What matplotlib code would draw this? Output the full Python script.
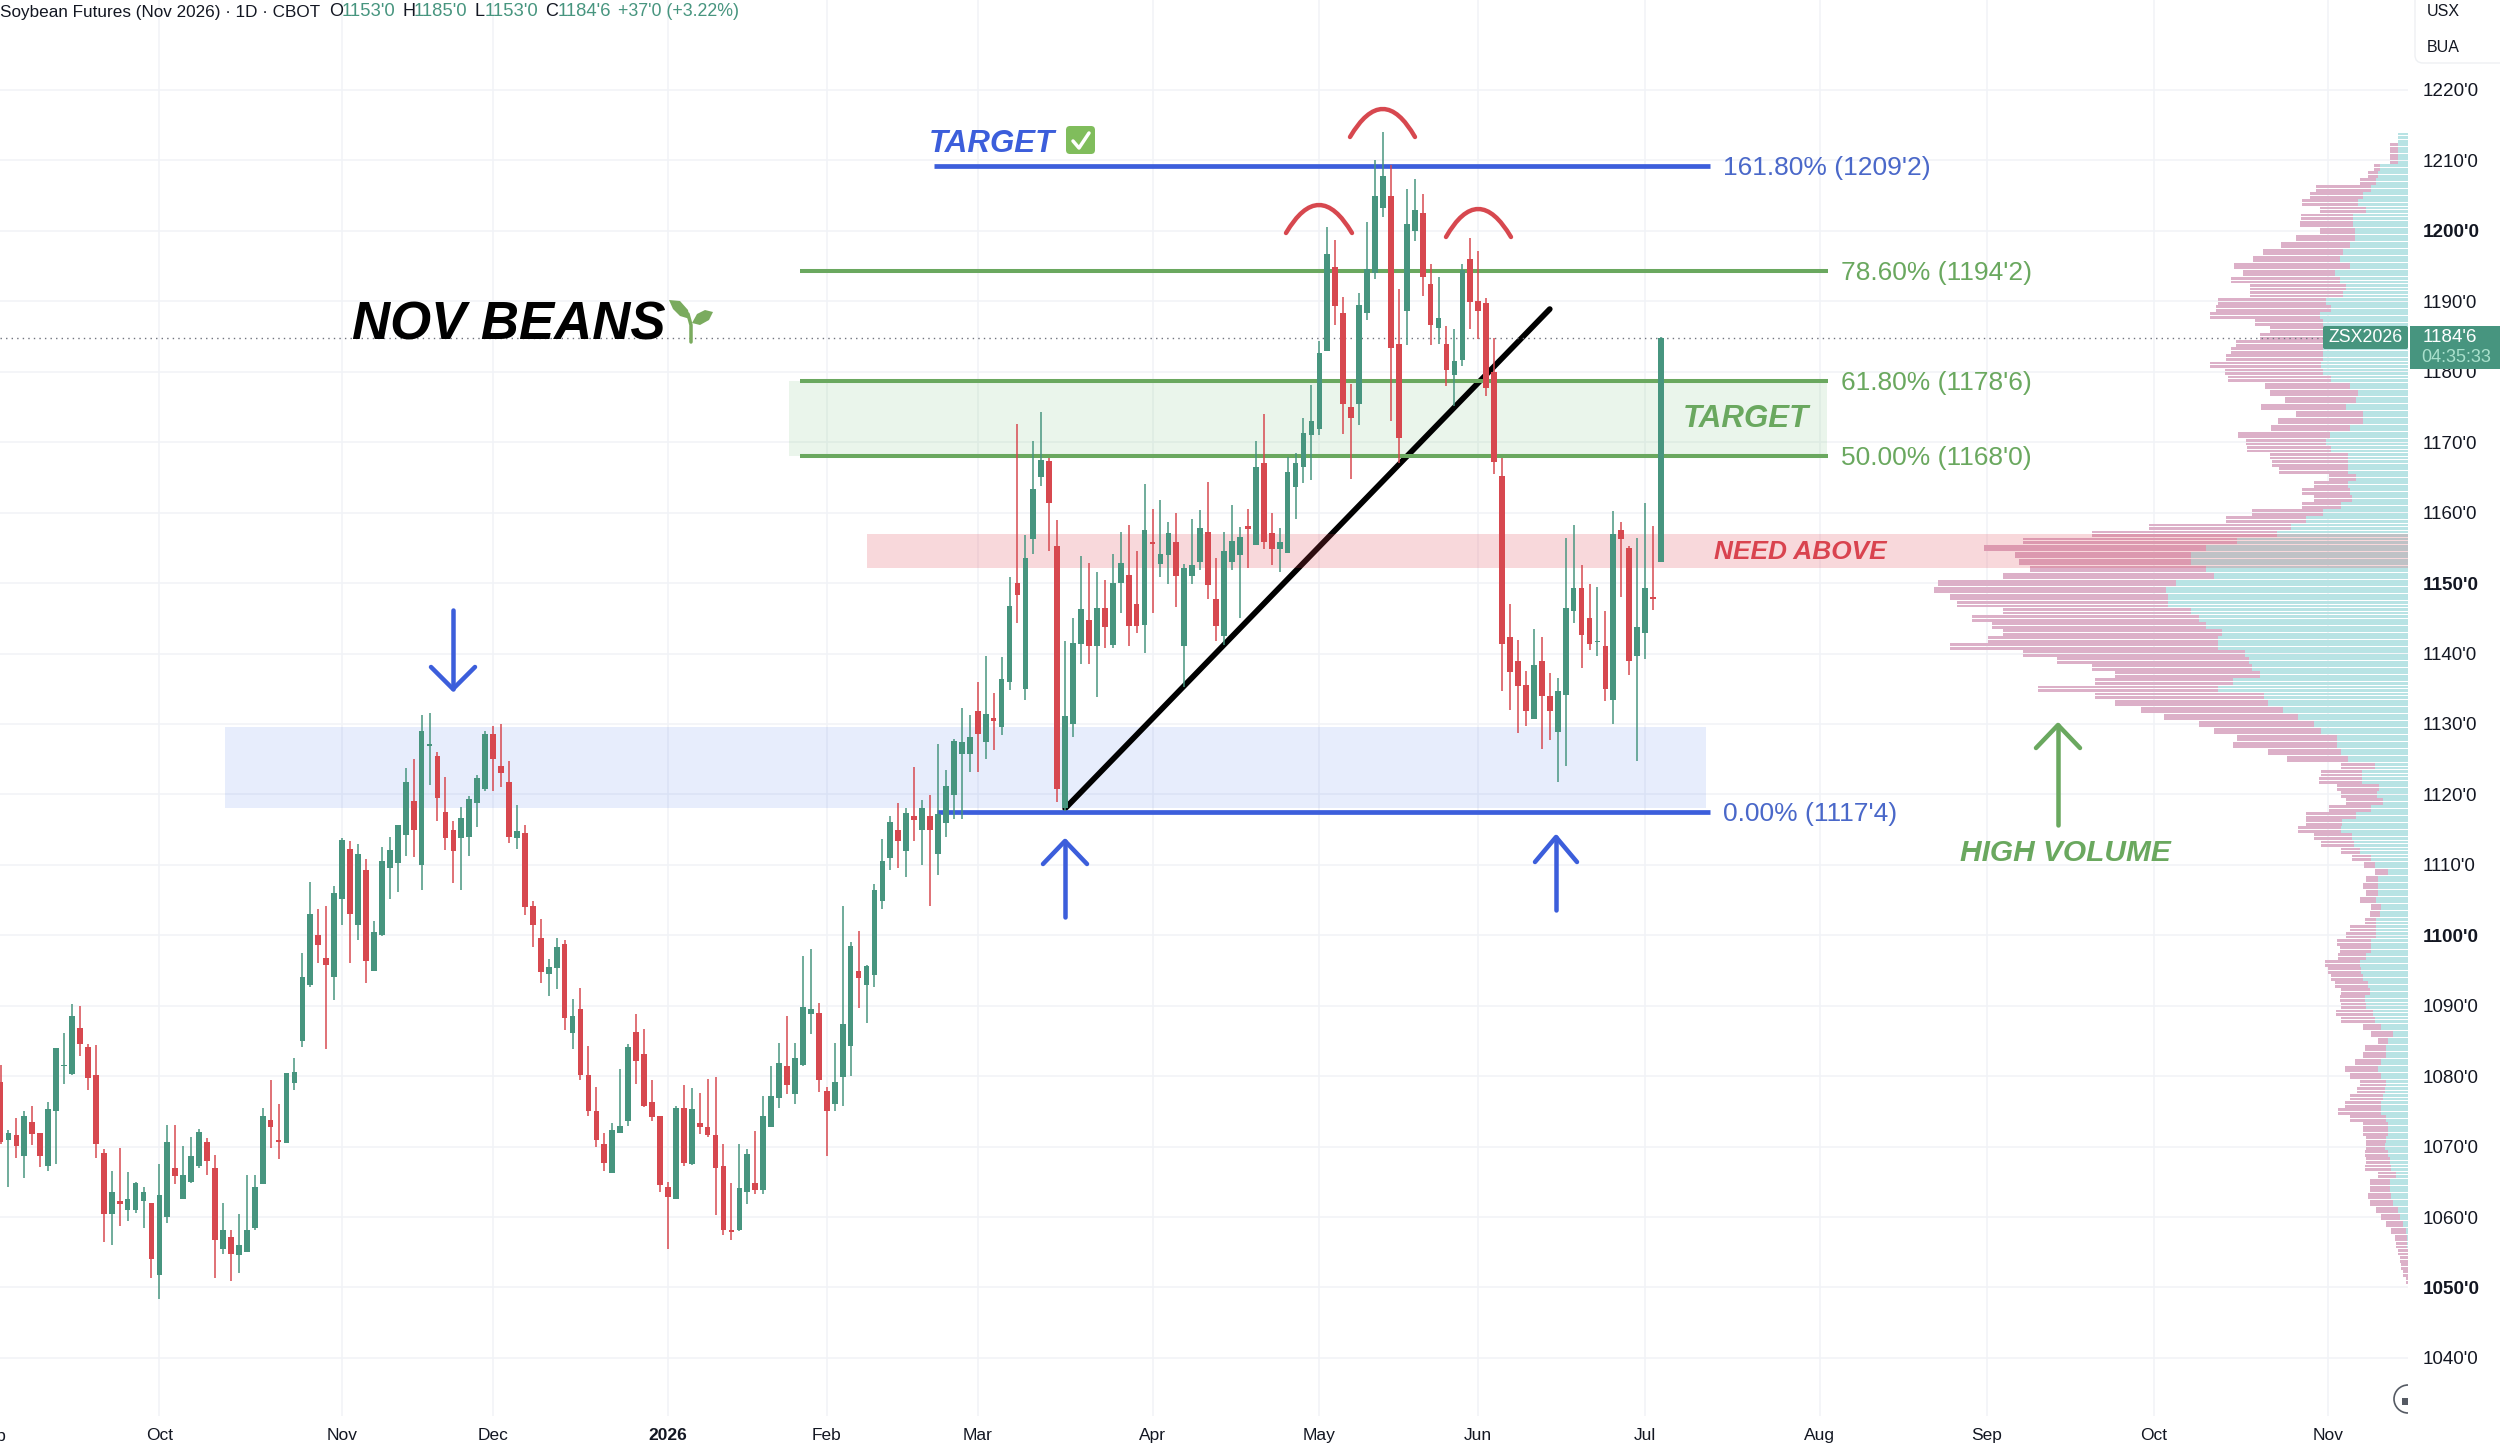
import numpy as np
import matplotlib
matplotlib.use("Agg")
import matplotlib.pyplot as plt
from matplotlib.patches import Rectangle, FancyBboxPatch, Polygon, PathPatch, Arc
from matplotlib.path import Path

plt.rcParams['font.family'] = ['Liberation Sans', 'DejaVu Sans']

# ---------- DATA ----------
opens = [1079.1,1071.0,1071.6,1068.6,1073.5,1071.9,1067.2,1075.1,1081.5,1080.3,
1086.8,1084.1,1080.1,1069.1,1060.5,1062.3,1061.0,1061.0,1062.3,1062.0,
1051.8,1060.0,1067.0,1062.5,1065.0,1067.2,1070.7,1067.0,1055.4,1057.1,
1054.6,1055.1,1058.5,1064.7,1073.8,1071.0,1070.5,1079.0,1085.0,1093.0,
1100.1,1096.8,1094.1,1105.1,1112.2,1101.5,1109.3,1095.0,1100.1,1109.6,
1110.3,1114.3,1119.0,1110.0,1126.9,1125.5,1117.5,1115.0,1113.8,1114.0,
1118.8,1120.8,1128.6,1124.0,1121.8,1113.8,1114.5,1104.1,1099.6,1094.5,
1095.3,1098.8,1086.1,1089.6,1080.1,1075.1,1070.3,1066.3,1072.0,1073.7,
1086.3,1083.1,1076.3,1074.3,1064.2,1062.5,1075.5,1067.5,1073.3,1072.8,
1071.6,1067.3,1058.1,1058.1,1063.6,1064.9,1063.9,1072.8,1076.9,1081.4,
1077.4,1081.6,1088.8,1088.9,1077.9,1076.1,1079.9,1084.3,1094.9,1093.0,
1094.4,1104.9,1111.0,1114.9,1111.9,1116.9,1114.9,1116.9,1111.6,1115.9,
1119.9,1125.8,1125.8,1131.9,1127.4,1130.9,1129.6,1136.0,1150.0,1134.9,
1156.3,1165.0,1167.3,1155.3,1118.0,1130.0,1141.4,1144.8,1141.0,1146.5,
1141.2,1150.0,1151.1,1147.1,1144.0,1155.8,1152.7,1154.0,1155.8,1141.0,
1151.0,1153.0,1157.3,1147.7,1142.5,1153.0,1154.0,1158.1,1155.4,1167.0,
1157.1,1154.9,1154.3,1163.7,1166.5,1171.0,1171.9,1183.0,1194.9,1188.4,
1175.0,1175.4,1188.4,1194.0,1203.2,1205.0,1183.9,1188.6,1200.0,1202.5,
1192.5,1186.2,1184.0,1179.6,1181.6,1196.0,1190.0,1189.8,1180.0,1165.2,
1142.4,1139.0,1135.5,1130.7,1139.0,1134.0,1128.9,1134.1,1146.0,1149.3,
1145.0,1141.6,1141.0,1133.4,1157.5,1155.0,1139.6,1142.9,1148.0,1153.0]

closes = [1070.7,1071.9,1070.1,1074.3,1071.8,1068.6,1075.3,1084.0,1081.6,1088.5,
1084.5,1079.8,1070.3,1060.5,1063.6,1061.8,1062.6,1064.8,1063.6,1054.0,
1063.1,1070.6,1065.8,1066.0,1068.6,1072.1,1067.9,1056.8,1058.1,1054.7,
1056.0,1058.1,1064.2,1074.3,1072.8,1070.7,1080.5,1080.6,1094.1,1103.0,
1098.6,1095.8,1106.0,1113.5,1103.0,1111.5,1096.3,1100.5,1110.5,1112.1,
1115.7,1121.8,1115.0,1129.0,1127.1,1119.5,1113.8,1112.0,1116.7,1119.3,
1122.3,1128.6,1125.0,1123.0,1114.0,1114.8,1104.0,1101.5,1094.8,1095.5,
1098.3,1088.2,1088.5,1080.2,1075.0,1071.0,1067.7,1072.3,1072.9,1084.2,
1082.2,1075.7,1074.2,1064.6,1062.8,1075.5,1067.7,1075.3,1072.8,1071.6,
1066.9,1058.1,1057.9,1064.1,1069.0,1063.8,1074.4,1077.2,1081.9,1078.8,
1082.6,1089.8,1089.6,1079.5,1075.1,1079.1,1087.4,1098.5,1093.9,1095.7,
1106.4,1110.5,1116.1,1113.4,1117.4,1116.4,1118.1,1114.9,1117.2,1121.2,
1127.6,1127.4,1128.2,1128.6,1131.4,1130.4,1136.4,1146.7,1148.3,1153.5,
1163.3,1167.5,1161.4,1120.8,1131.2,1141.5,1146.3,1141.0,1146.5,1143.8,
1150.0,1152.8,1143.9,1143.9,1157.5,1155.5,1154.1,1157.1,1151.0,1152.1,
1152.6,1157.8,1149.7,1143.9,1154.6,1156.0,1156.5,1157.7,1166.5,1155.9,
1154.9,1155.8,1165.8,1167.0,1171.3,1173.0,1182.7,1196.7,1189.4,1175.4,
1173.4,1189.5,1194.6,1205.0,1207.8,1183.4,1170.6,1201.0,1202.9,1193.5,
1186.7,1187.7,1180.2,1181.5,1194.4,1189.9,1188.6,1177.7,1167.2,1141.4,
1137.4,1135.4,1131.9,1138.4,1133.9,1131.9,1134.7,1146.5,1149.3,1142.7,
1141.4,1141.8,1134.9,1157.0,1156.2,1139.0,1143.7,1149.3,1147.7,1184.75]

highs = [1081.6,1072.3,1074.0,1075.0,1075.8,1071.9,1076.3,1084.0,1086.1,1090.3,
1089.9,1084.5,1084.4,1069.6,1066.6,1069.8,1066.4,1065.0,1064.2,1062.0,
1067.6,1073.1,1073.1,1070.1,1071.4,1072.5,1071.2,1068.8,1062.0,1058.2,
1060.4,1066.0,1066.0,1075.5,1079.5,1076.0,1080.5,1082.6,1097.5,1107.5,
1103.8,1104.1,1107.0,1113.8,1113.4,1113.0,1110.8,1102.0,1112.6,1114.0,
1115.7,1123.7,1125.0,1131.3,1131.5,1126.0,1122.5,1116.2,1118.2,1119.8,
1122.7,1129.0,1129.7,1130.0,1124.8,1118.5,1115.7,1104.9,1102.3,1096.7,
1099.6,1099.3,1090.9,1092.5,1084.3,1078.5,1071.9,1073.3,1081.0,1084.5,
1088.8,1086.7,1079.5,1074.3,1065.0,1075.8,1078.8,1078.3,1077.6,1079.6,
1079.9,1070.4,1064.8,1070.4,1069.6,1072.2,1077.2,1081.4,1084.7,1088.5,
1084.7,1097.1,1098.1,1090.4,1078.4,1084.7,1104.1,1099.0,1100.6,1095.8,
1107.3,1113.7,1117.0,1118.8,1118.1,1123.9,1119.2,1119.9,1127.1,1123.4,
1127.9,1132.3,1131.3,1135.9,1139.6,1134.4,1139.5,1150.8,1172.6,1156.8,
1170.2,1174.3,1167.7,1159.0,1141.8,1145.1,1153.8,1152.8,1151.6,1150.5,
1154.1,1157.3,1158.3,1154.6,1164.0,1160.5,1161.8,1158.7,1159.9,1152.7,
1159.1,1160.4,1164.3,1153.5,1157.3,1161.1,1158.0,1160.5,1170.1,1174.0,
1160.0,1157.8,1167.9,1168.4,1173.5,1178.1,1184.4,1200.5,1198.7,1190.6,
1178.2,1191.2,1201.3,1210.0,1214.0,1209.3,1191.7,1206.0,1207.4,1205.2,
1195.3,1193.5,1186.5,1186.0,1195.3,1199.0,1197.2,1190.5,1184.8,1167.8,
1147.1,1141.9,1137.5,1143.5,1142.4,1137.2,1136.5,1156.4,1158.2,1152.6,
1149.8,1149.5,1146.0,1160.2,1158.7,1155.3,1156.4,1161.3,1158.1,1185.0]

lows = [1070.4,1064.2,1068.4,1065.6,1070.2,1067.1,1066.6,1067.6,1078.9,1080.2,
1082.9,1078.0,1068.4,1056.4,1056.0,1058.7,1059.4,1060.6,1058.4,1051.4,
1048.4,1059.1,1064.7,1062.5,1064.8,1066.9,1066.0,1051.4,1054.7,1050.9,
1052.1,1055.0,1058.2,1064.7,1069.8,1068.2,1070.5,1078.1,1084.1,1092.7,
1096.1,1083.9,1090.8,1101.4,1096.1,1099.4,1093.2,1095.0,1099.9,1105.1,
1106.1,1111.3,1111.1,1106.4,1121.3,1116.2,1112.1,1107.4,1106.4,1111.3,
1115.4,1120.5,1120.5,1121.0,1113.1,1112.2,1102.9,1098.4,1093.2,1091.4,
1092.4,1086.6,1083.8,1079.5,1074.3,1069.9,1066.5,1066.3,1071.9,1072.9,
1078.9,1075.6,1073.6,1063.6,1055.5,1062.5,1067.2,1067.4,1071.8,1071.3,
1060.3,1057.5,1056.7,1058.0,1061.9,1063.2,1063.2,1072.8,1075.5,1077.5,
1076.0,1081.5,1086.0,1077.8,1068.7,1075.0,1075.7,1080.0,1089.7,1087.5,
1092.7,1103.8,1109.2,1109.5,1108.3,1113.4,1110.0,1104.2,1108.5,1114.0,
1116.5,1116.5,1123.2,1123.2,1125.0,1126.3,1128.5,1134.8,1144.4,1133.4,
1154.1,1163.8,1154.6,1118.9,1117.7,1128.2,1138.5,1138.5,1133.8,1140.8,
1140.8,1145.8,1141.1,1142.9,1140.1,1145.8,1150.8,1149.9,1146.6,1135.3,
1149.9,1151.8,1147.7,1141.8,1141.2,1151.8,1145.1,1152.1,1155.4,1154.8,
1152.6,1151.6,1154.3,1159.1,1164.2,1164.6,1171.0,1183.0,1186.6,1171.2,
1164.8,1172.5,1187.3,1193.1,1202.0,1173.0,1167.0,1183.8,1198.6,1190.8,
1183.8,1184.0,1178.0,1175.1,1180.8,1186.0,1184.7,1176.5,1165.5,1134.7,
1132.0,1128.7,1129.7,1130.7,1126.5,1127.7,1121.8,1124.0,1144.4,1137.9,
1140.5,1139.6,1133.2,1130.0,1148.0,1137.0,1124.8,1139.2,1146.2,1153.0]

month_idx = [20, 43, 62, 84, 104, 123, 145, 166, 186, 207, 229, 250, 271, 293]
month_lab = ['Oct', 'Nov', 'Dec', '2026', 'Feb', 'Mar', 'Apr', 'May', 'Jun', 'Jul', 'Aug', 'Sep', 'Oct', 'Nov']
price_ticks = list(range(1040, 1221, 10))

fib_levels = [1209.25, 1194.25, 1178.75, 1168.0, 1117.5]
fib_labels = ["161.80% (1209'2)", "78.60% (1194'2)", "61.80% (1178'6)", "50.00% (1168'0)", "0.00% (1117'4)"]
last_price = 1184.75

profile_levels = [1213.5] + list(range(1213, 1050, -1))
profile_total = [10,10,18,18,18,34,40,48,92,98,106,88,107,108,88,112,127,145,155,174,165,
177,158,158,190,192,198,153,138,148,172,177,182,198,183,180,143,138,123,147,112,
130,137,170,162,161,138,136,129,79,94,106,94,106,156,182,259,316,385,424,393,
389,378,405,470,474,458,451,405,436,416,405,420,458,385,351,316,293,313,370,313,
293,267,244,209,194,171,175,140,121,67,87,89,71,67,62,79,102,102,110,94,
87,67,56,44,33,42,45,42,48,37,38,43,58,62,71,68,70,83,80,77,
73,67,68,67,72,67,45,37,30,43,45,53,63,58,48,51,58,63,70,58,
45,45,42,42,43,42,43,30,38,38,40,38,32,27,22,17,13,12,10,8,7,5,2]
profile_up = [10,10,10,10,10,28,30,32,37,45,50,42,55,55,53,53,58,65,68,58,73,
68,62,65,82,77,88,85,70,85,85,85,85,87,85,77,58,50,52,62,45,
45,58,78,82,77,60,60,60,52,60,58,56,67,85,102,117,131,171,202,217,
217,202,194,232,242,240,240,217,209,202,186,190,190,163,159,156,148,175,190,144,
140,125,110,94,87,71,71,67,60,33,46,46,29,31,25,37,52,66,67,56,
54,48,37,33,20,30,30,30,32,27,28,32,32,32,37,37,42,48,47,45,
40,38,43,42,35,33,27,15,20,22,22,27,30,27,22,23,25,27,27,22,
20,20,22,23,20,18,17,12,18,18,17,15,10,8,5,2,1,1,0,0,0,0,0]

# ---------- LAYOUT ----------
W, H = 2500, 1444
STEP = 7.945
PX_PER_PT = 7.044
PLOT_R, PLOT_B = 2408, 1416
GREEN, RED = '#47957f', '#d7484f'
BLUE_L, GREEN_L = '#3c5edb', '#6aa85f'
ix = lambda px: (px - 0.5) / STEP
pr = lambda y: 1220 - (y - 90) / PX_PER_PT

fig = plt.figure(figsize=(25, 14.44), dpi=100, facecolor='white')
ax = fig.add_axes([0, (H - PLOT_B) / H, PLOT_R / W, PLOT_B / H])
ax.set_xlim(ix(0), ix(PLOT_R))
ax.set_ylim(pr(PLOT_B), pr(0))
for s in ax.spines.values():
    s.set_visible(False)
ax.set_axisbelow(True)
ax.grid(True, color='#f1f3f7', lw=1.1, zorder=0)
ax.yaxis.tick_right()
ax.set_yticks(price_ticks)
ax.set_yticklabels([f"{p}'0" for p in price_ticks], fontsize=13.6, color='#131722')
for lab, p in zip(ax.get_yticklabels(), price_ticks):
    if p % 50 == 0:
        lab.set_fontweight('bold')
ax.set_xticks(month_idx)
ax.set_xticklabels(month_lab, fontsize=12.5, color='#131722')
ax.get_xticklabels()[3].set_fontweight('bold')
ax.tick_params(axis='y', length=0, pad=10.5)
ax.tick_params(axis='x', length=0, pad=8.5)

# volume profile
lv = np.array(profile_levels, float)
tot = np.array(profile_total, float) / STEP
up = np.array(profile_up, float) / STEP
xr = ix(PLOT_R)
for off in (-0.25, 0.25):
    ax.barh(lv + off, tot, left=xr - tot, height=0.41, color='#dcb0c8', lw=0, zorder=1)
    ax.barh(lv + off, up, left=xr - up, height=0.41, color='#b8e3e4', lw=0, zorder=1.1)

# zones
ax.add_patch(Rectangle((ix(225), 1118.0), ix(1706) - ix(225), 1129.6 - 1118.0, fc='#2f62e8', alpha=0.115, lw=0, zorder=1.5))
ax.add_patch(Rectangle((ix(789), fib_levels[3]), ix(1827) - ix(789), fib_levels[2] - fib_levels[3], fc='#4caf50', alpha=0.115, lw=0, zorder=1.5))

# trend line, pink zone above it
ax.plot([134, 195], [1118.0, 1188.9], color='black', lw=4.1, solid_capstyle='round', zorder=2)
ax.add_patch(Rectangle((ix(867), 1152.1), ix(PLOT_R) - ix(867), 1156.9 - 1152.1, fc='#e0404f', alpha=0.2, lw=0, zorder=2.5))

# last price
ax.axhline(last_price, color='#6f727c', lw=1.0, ls=(0, (1, 3)), zorder=2.6)

# fibonacci lines
fib_x = [(934, 1710, BLUE_L, 3.4), (800, 1828, GREEN_L, 2.9), (800, 1828, GREEN_L, 2.9), (800, 1828, GREEN_L, 2.9), (937, 1710, BLUE_L, 3.4)]
for lev, (a, b, c, w) in zip(fib_levels, fib_x):
    ax.plot([ix(a), ix(b)], [lev, lev], color=c, lw=w, solid_capstyle='butt', zorder=4)

# candles
o, h, l, c = map(np.array, (opens, highs, lows, closes))
x = np.arange(len(o))
cols = np.where(c >= o, GREEN, RED)
cols[[8, 54, 201]] = GREEN
ax.vlines(x, l, h, colors=cols, lw=1.15, alpha=0.95, zorder=5)
ax.bar(x, np.abs(c - o), bottom=np.minimum(o, c), width=0.72, color=cols, lw=0, zorder=6)

# ---------- OVERLAY (pixel space) ----------
ov = fig.add_axes([0, 0, 1, 1], facecolor='none')
ov.set_xlim(0, W)
ov.set_ylim(H, 0)
ov.axis('off')

def line(xs, ys, color, w):
    ov.plot(xs, ys, color=color, lw=w * 0.72, solid_capstyle='round', solid_joinstyle='round')

def arrow(xc, ytail, ytip, yhead, dx, color, w):
    line([xc, xc], [ytail, ytip], color, w)
    line([xc - dx, xc, xc + dx], [yhead, ytip, yhead], color, w)

arrow(453, 610, 689, 667, 22, BLUE_L, 4.5)
arrow(1065, 917, 841, 864, 22, BLUE_L, 4.5)
arrow(1556, 910, 837, 862, 21, BLUE_L, 4.5)
arrow(2058, 825, 725, 748, 22, GREEN_L, 4.5)

for xa, xm, xb, ye, yt in [(1286, 1319, 1352, 233, 205), (1350, 1383, 1415, 137, 109), (1446, 1478, 1511, 237, 209)]:
    verts = [(xa, ye), (xm, 2 * yt - ye), (xb, ye)]
    ov.add_patch(PathPatch(Path(verts, [Path.MOVETO, Path.CURVE3, Path.CURVE3]), fc='none', ec=RED, lw=3.2, capstyle='round'))

# labels for the fib levels
lab_x = [1723, 1841, 1841, 1841, 1723]
lab_c = ['#4a68c9', GREEN_L, GREEN_L, GREEN_L, '#4a68c9']
for lev, t, xp, cc in zip(fib_levels, fib_labels, lab_x, lab_c):
    ov.text(xp, 92 + (1220 - lev) * PX_PER_PT, t, color=cc, fontsize=19, va='center', ha='left')

ov.text(929, 144, 'TARGET', color=BLUE_L, fontsize=22.5, fontweight='bold', style='italic', va='center')
ov.add_patch(FancyBboxPatch((1066, 126), 29, 28, boxstyle='round,pad=0,rounding_size=4', fc='#80bd5c', ec='none'))
line([1073, 1079, 1089], [141, 148, 133], 'white', 3.5)
ov.text(1683, 419, 'TARGET', color=GREEN_L, fontsize=22.5, fontweight='bold', style='italic', va='center')
ov.text(1714, 552, 'NEED ABOVE', color='#d9434f', fontsize=18.9, fontweight='bold', style='italic', va='center')
ov.text(1960, 853, 'HIGH VOLUME', color=GREEN_L, fontsize=21.5, fontweight='bold', style='italic', va='center')
ov.text(352, 325, 'NOV BEANS', color='black', fontsize=38, fontweight='bold', style='italic', va='center')

# seedling
seed = '#7aab5e'
ov.add_patch(Polygon([(669, 300), (680, 301), (688, 310), (690, 319), (680, 316), (673, 309)], fc=seed, ec='none'))
ov.add_patch(Polygon([(692, 323), (697, 314), (705, 310), (713, 312), (709, 320), (700, 325)], fc=seed, ec='none'))
line([691, 691, 688], [342, 325, 314], seed, 3.5)

# header
head = [(0, "Soybean Futures (Nov 2026) · 1D · CBOT", '#131722', 12.3), (329, 'O', '#131722', 13), (342, "1153'0", GREEN, 13.3),
        (402, 'H', '#131722', 13), (414, "1185'0", GREEN, 13.3), (475, 'L', '#131722', 13), (485, "1153'0", GREEN, 13.3),
        (545, 'C', '#131722', 13), (558, "1184'6", GREEN, 13.3), (618, "+37'0 (+3.22%)", GREEN, 12.8)]
for xp, t, cc, fs in head:
    ov.text(xp, 12, t, color=cc, fontsize=fs, va='center', ha='left')

# right-hand scale extras
ov.add_patch(FancyBboxPatch((2415, -20), 120, 83, boxstyle='round,pad=0,rounding_size=8', fc='white', ec='#eef0f3', lw=1))
ov.text(2427, 12, 'USX', fontsize=11.5, color='#131722', va='center')
ov.text(2427, 47, 'BUA', fontsize=11.5, color='#131722', va='center')
ov.add_patch(FancyBboxPatch((2323, 326), 85, 23, boxstyle='round,pad=0,rounding_size=2', fc=GREEN, ec='none'))
ov.text(2366, 338, 'ZSX2026', color='white', fontsize=12.8, ha='center', va='center')
ov.add_patch(Rectangle((2410, 326), 92, 43, fc=GREEN, ec='none'))
ov.text(2423, 338, "1184'6", color='white', fontsize=13.6, va='center')
ov.text(2421, 357, '04:35:33', color='#a9e0cc', fontsize=13.0, va='center')

# clipped labels and icon
ov.text(-9, 1437, 'Sep', fontsize=12.5, color='#131722', ha='center', va='center')
ov.add_patch(Arc((2408, 1399), 28, 28, theta1=90, theta2=270, color='#555a63', lw=1.2))
ov.add_patch(Rectangle((2402, 1398), 6, 7, fc='#555a63', ec='none'))

fig.savefig('out.png', dpi=100)
